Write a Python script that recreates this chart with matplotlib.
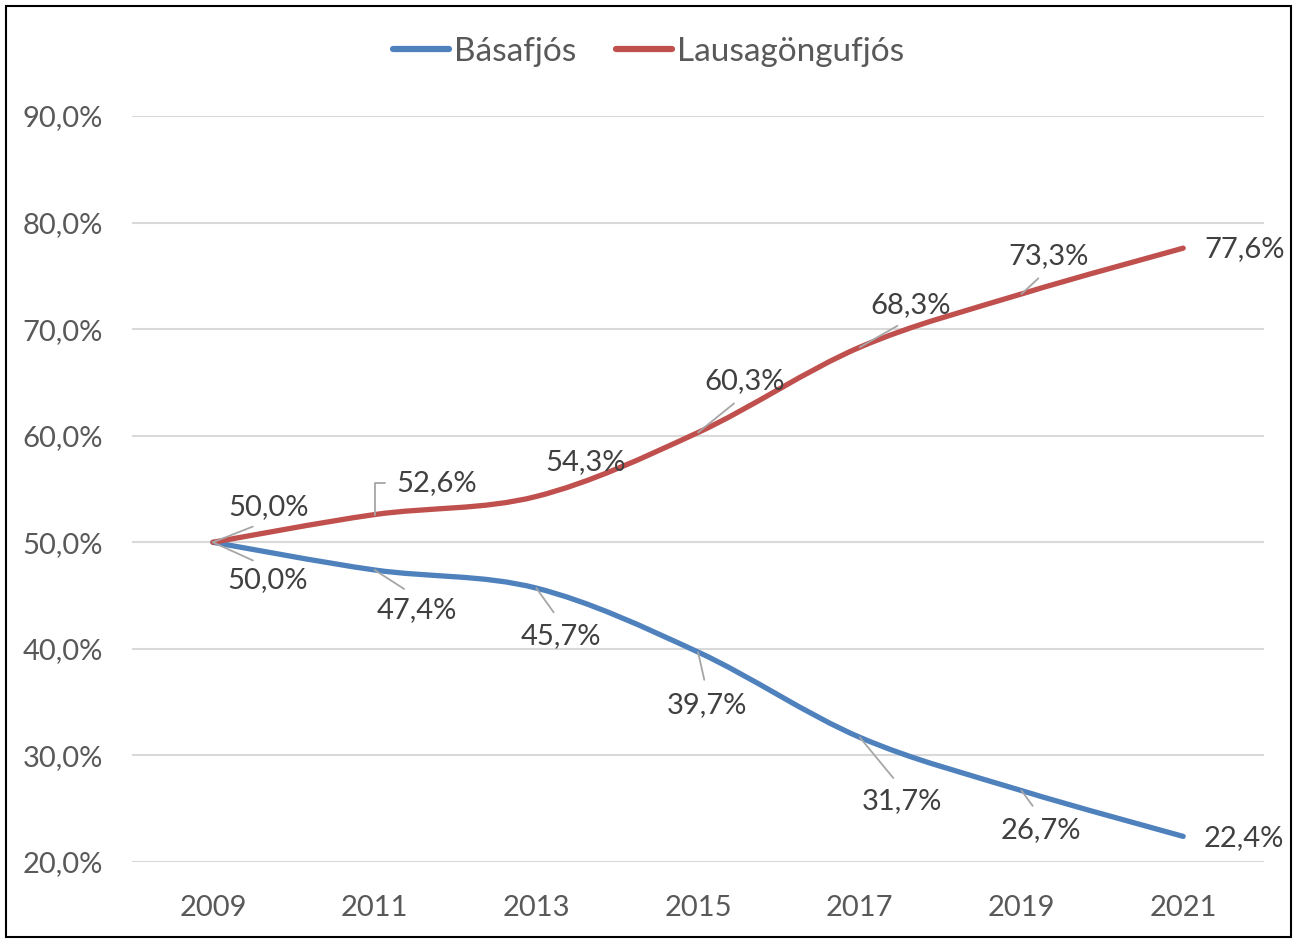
import numpy as np
import matplotlib
matplotlib.use("Agg")
import matplotlib.pyplot as plt
from matplotlib.path import Path
from matplotlib.patches import PathPatch, Rectangle
from matplotlib.lines import Line2D
from matplotlib.ticker import FuncFormatter

plt.rcParams["font.family"] = ["Lato", "DejaVu Sans"]

years = ["2009", "2011", "2013", "2015", "2017", "2019", "2021"]
basafjos = [50.0, 47.4, 45.7, 39.7, 31.7, 26.7, 22.4]
lausagongufjos = [50.0, 52.6, 54.3, 60.3, 68.3, 73.3, 77.6]

BLUE = "#4F81BD"
RED = "#C0504D"
GRID = "#D9D9D9"
TICK = "#595959"
LABEL = "#404040"
LEADER = "#A6A6A6"
FS = 21


def smooth_path(x, y):
    """Excel-style smoothed line: cubic Bezier through the points."""
    pts = np.column_stack([x, y]).astype(float)
    n = len(pts)
    verts = [pts[0]]
    codes = [Path.MOVETO]
    for i in range(n - 1):
        p0 = pts[max(i - 1, 0)]
        p1 = pts[i]
        p2 = pts[i + 1]
        p3 = pts[min(i + 2, n - 1)]
        c1 = p1 + (p2 - p0) / 6.0
        c2 = p2 - (p3 - p1) / 6.0
        verts += [c1, c2, p2]
        codes += [Path.CURVE4] * 3
    return Path(verts, codes)


fig = plt.figure(figsize=(12.97, 9.40), dpi=100)
ax = fig.add_axes([0.1018, 0.0830, 0.8728, 0.7936])

xs = np.arange(len(years))
for vals, col in ((basafjos, BLUE), (lausagongufjos, RED)):
    ax.add_patch(PathPatch(smooth_path(xs, vals), facecolor="none",
                           edgecolor=col, lw=3.8, capstyle="round", zorder=3))

ax.set_xlim(-0.5, len(years) - 0.5)
ax.set_ylim(20, 90)
ax.set_xticks(xs)
ax.set_xticklabels(years)
ax.set_yticks(np.arange(20, 91, 10))
ax.yaxis.set_major_formatter(FuncFormatter(lambda v, _: f"{v:.1f}%".replace(".", ",")))
ax.tick_params(length=0, labelsize=FS, colors=TICK)
ax.tick_params(axis="y", pad=21)
ax.tick_params(axis="x", pad=24)
ax.grid(axis="y", color=GRID, lw=1.5)
for s in ax.spines.values():
    s.set_visible(False)
ax.set_axisbelow(True)

# data labels: offsets in pixels from the point, and whether to draw a leader
red_off = [(56, 35, "s"), (62, 32, "elbow"), (49, 34, None), (47, 51, "s"),
           (51, 42, "s"), (27, 38, "s"), (61, -1, None)]
blue_off = [(55, -38, "s"), (42, -40, "s"), (25, -48, "s"), (9, -53, "s"),
            (42, -64, "s"), (19, -39, "s"), (61, -2, None)]

for vals, offs, below in ((lausagongufjos, red_off, False), (basafjos, blue_off, True)):
    for i, (v, (dx, dy, lead)) in enumerate(zip(vals, offs)):
        txt = f"{v:.1f}%".replace(".", ",")
        kw = {}
        if lead == "s":
            kw["arrowprops"] = dict(arrowstyle="-", color=LEADER, lw=1.3,
                                    shrinkA=7, shrinkB=0,
                                    relpos=(0.5, 1.0) if below else (0.5, 0.0))
        elif lead == "elbow":
            kw["arrowprops"] = dict(arrowstyle="-", color=LEADER, lw=1.3,
                                    shrinkA=6, shrinkB=0, relpos=(0.0, 0.5),
                                    connectionstyle="angle,angleA=0,angleB=90,rad=0")
        ax.annotate(txt, xy=(i, v), xytext=(dx, dy), textcoords="offset pixels",
                    ha="center", va="center", fontsize=FS, color=LABEL,
                    zorder=4, **kw)

handles = [Line2D([], [], color=BLUE, lw=4.5, solid_capstyle="round"),
           Line2D([], [], color=RED, lw=4.5, solid_capstyle="round")]
leg = fig.legend(handles, ["Básafjós", "Lausagöngufjós"], loc="center",
                 bbox_to_anchor=(0.5, 0.945), ncol=2, frameon=False,
                 fontsize=24, handlelength=1.68, handletextpad=0.15,
                 columnspacing=1.17)
for t in leg.get_texts():
    t.set_color(TICK)

fig.patches.append(Rectangle((0.005, 0.003), 0.99, 0.991, transform=fig.transFigure,
                             fill=False, edgecolor="black", lw=1.5))

fig.savefig("out.png", dpi=100)
